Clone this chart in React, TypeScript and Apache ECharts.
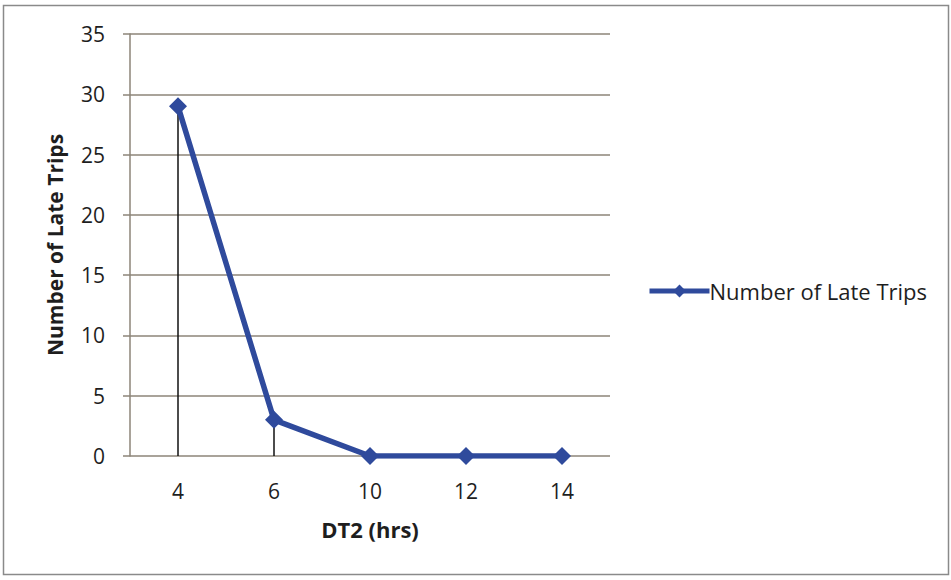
import React, { useEffect, useRef } from "react";
import * as echarts from "echarts";

const categories = ["4", "6", "10", "12", "14"];
const lateTrips = [29, 3, 0, 0, 0];
const seriesName = "Number of Late Trips";

const FONT = "'Open Sans', 'Noto Sans', sans-serif";
const BLUE = "#2f4a9c";
const GRID = "#8c8478";
const INK = "#1e1e1e";

export default function App() {
  const ref = useRef<HTMLDivElement>(null);

  useEffect(() => {
    if (!ref.current) return;
    const chart = echarts.init(ref.current, null, { renderer: "svg" });
    chart.setOption({
      animation: false,
      backgroundColor: "#ffffff",
      textStyle: { fontFamily: FONT },
      graphic: [
        {
          type: "rect",
          shape: { x: 3.5, y: 5.5, width: 945, height: 569 },
          style: { fill: "none", stroke: "#8a8a8a", lineWidth: 1.5 },
          silent: true,
        },
      ],
      legend: {
        data: [seriesName],
        orient: "vertical",
        left: 642,
        top: 275,
        itemWidth: 60,
        itemHeight: 16,
        itemGap: 4,
        lineStyle: { width: 5 },
        textStyle: { fontFamily: FONT, fontSize: 22, color: INK, padding: [0, 0, 0, -5] },
      },
      grid: { left: 130, top: 34, width: 480, height: 422, containLabel: false },
      xAxis: {
        type: "category",
        data: categories,
        boundaryGap: true,
        name: "DT2 (hrs)",
        nameLocation: "middle",
        nameGap: 62,
        nameTextStyle: { fontFamily: FONT, fontSize: 22, fontWeight: "bold", color: INK },
        axisLine: { show: false },
        axisTick: { show: false },
        axisLabel: { margin: 24, fontSize: 21, color: INK, fontFamily: FONT },
        splitLine: { show: false },
      },
      yAxis: {
        type: "value",
        min: 0,
        max: 35,
        interval: 5,
        name: seriesName,
        nameLocation: "middle",
        nameGap: 65,
        nameTextStyle: { fontFamily: FONT, fontSize: 21, fontWeight: "bold", color: INK },
        axisLine: { show: true, lineStyle: { color: GRID, width: 1.5 } },
        axisTick: { show: true, length: 7, lineStyle: { color: GRID, width: 1.5 } },
        axisLabel: { margin: 25, fontSize: 21, color: INK, fontFamily: FONT },
        splitLine: { show: true, lineStyle: { color: GRID, width: 1.5 } },
      },
      series: [
        {
          // vertical drop lines from each point down to the axis
          name: "drop",
          type: "bar",
          data: lateTrips,
          barWidth: 1.5,
          itemStyle: { color: "#111" },
          silent: true,
          z: 1,
        },
        {
          name: seriesName,
          type: "line",
          data: lateTrips,
          symbol: "diamond",
          symbolSize: 18,
          lineStyle: { color: BLUE, width: 5.5 },
          itemStyle: { color: BLUE },
          z: 3,
        },
      ],
    });
    return () => chart.dispose();
  }, []);

  return (
    <div
      ref={ref}
      style={{ position: "absolute", left: 0, top: 0, width: 951, height: 580 }}
    />
  );
}
